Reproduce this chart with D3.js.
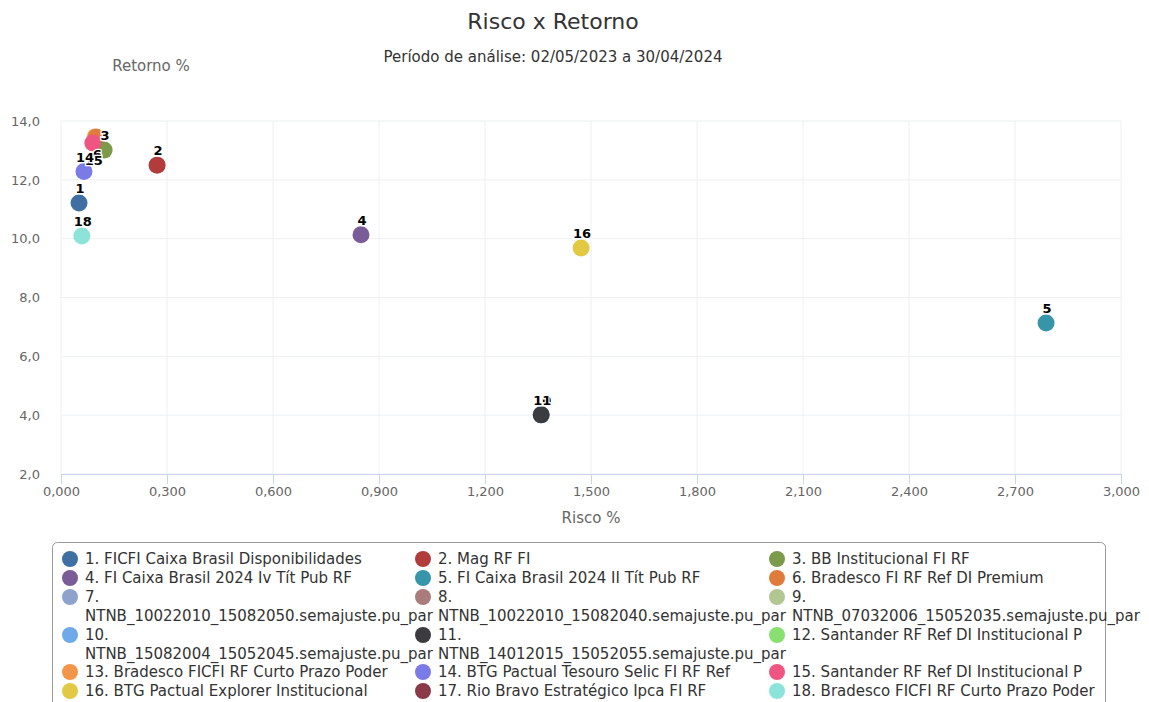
<!DOCTYPE html>
<html>
<head>
<meta charset="utf-8">
<script src="https://cdn.jsdelivr.net/npm/d3@7"></script>
<style>
  body { margin: 0; background: #fff; font-family: "DejaVu Sans", sans-serif; }
  svg { display: block; }
</style>
</head>
<body>
<svg id="chart" width="1149" height="702"></svg>
<script>
// legend entries (numbered funds)
var funds = [
  "FICFI Caixa Brasil Disponibilidades",
  "Mag RF FI",
  "BB Institucional FI RF",
  "FI Caixa Brasil 2024 Iv Tít Pub RF",
  "FI Caixa Brasil 2024 II Tít Pub RF",
  "Bradesco FI RF Ref DI Premium",
  "NTNB_10022010_15082050.semajuste.pu_par",
  "NTNB_10022010_15082040.semajuste.pu_par",
  "NTNB_07032006_15052035.semajuste.pu_par",
  "NTNB_15082004_15052045.semajuste.pu_par",
  "NTNB_14012015_15052055.semajuste.pu_par",
  "Santander RF Ref DI Institucional P",
  "Bradesco FICFI RF Curto Prazo Poder",
  "BTG Pactual Tesouro Selic FI RF Ref",
  "Santander RF Ref DI Institucional P",
  "BTG Pactual Explorer Institucional",
  "Rio Bravo Estratégico Ipca FI RF",
  "Bradesco FICFI RF Curto Prazo Poder"
];
var colors = ["#3f6fa3", "#b23b3b", "#7b9a4a", "#7a5c98", "#3795aa", "#e07c3b",
  "#8ea3cc", "#a97b7b", "#b1c691", "#6eaaea", "#3b3b40", "#88e070",
  "#f29649", "#7b7be8", "#ee5580", "#e2c843", "#8a3a49", "#8ce3da"];

// point values: fund number, risk %, return %
var pointIds = [10, 11, 5, 16, 4, 2, 13, 6, 3, 15, 14, 1, 18];
var risk     = [1.359, 1.359, 2.788, 1.472, 0.849, 0.272, 0.097, 0.100, 0.122, 0.090, 0.065, 0.051, 0.059];
var ret      = [4.01, 4.01, 7.13, 9.68, 10.13, 12.50, 13.46, 13.45, 13.01, 13.25, 12.28, 11.21, 10.09];
// labels pushed below their point by overlap
var labelsBelow = [6, 15];

var xTicks = [0, 0.3, 0.6, 0.9, 1.2, 1.5, 1.8, 2.1, 2.4, 2.7, 3.0];
var yTicks = [2, 4, 6, 8, 10, 12, 14];

var svg = d3.select("#chart");
var plotL = 61, plotR = 1121, plotT = 121, plotB = 474;

var x = d3.scaleLinear().domain([0, 3]).range([plotL, plotR]);
var y = d3.scaleLinear().domain([2, 14]).range([plotB, plotT]);
var fmtX = function (v) { return d3.format(".3f")(v).replace(".", ","); };
var fmtY = function (v) { return d3.format(".1f")(v).replace(".", ","); };

// titles
svg.append("text").attr("x", 553).attr("y", 29).attr("text-anchor", "middle")
  .style("font-size", "22px").style("fill", "#333").text("Risco x Retorno");
svg.append("text").attr("x", 553).attr("y", 62).attr("text-anchor", "middle")
  .style("font-size", "15px").style("fill", "#333").text("Período de análise: 02/05/2023 a 30/04/2024");
svg.append("text").attr("x", 151).attr("y", 71).attr("text-anchor", "middle")
  .style("font-size", "15px").style("fill", "#666").text("Retorno %");
svg.append("text").attr("x", 591).attr("y", 523).attr("text-anchor", "middle")
  .style("font-size", "15px").style("fill", "#666").text("Risco %");

// grid
svg.append("g").selectAll("line").data(yTicks).enter().append("line")
  .attr("x1", plotL).attr("x2", plotR).attr("y1", d => y(d)).attr("y2", d => y(d))
  .style("stroke", "#eef0f4");
svg.append("g").selectAll("line").data(xTicks).enter().append("line")
  .attr("x1", d => x(d)).attr("x2", d => x(d)).attr("y1", plotT).attr("y2", plotB)
  .style("stroke", "#eef0f4");

// x axis
var xAxis = svg.append("g").attr("transform", "translate(0," + plotB + ")")
  .call(d3.axisBottom(x).tickValues(xTicks).tickFormat(fmtX).tickSize(10).tickPadding(3));
xAxis.select(".domain").style("stroke", "#ccd6eb");
xAxis.selectAll(".tick line").style("stroke", "#ccd6eb");
xAxis.selectAll("text").style("font-size", "13px").style("fill", "#666")
  .style("font-family", "DejaVu Sans, sans-serif");

// y axis (labels only)
var yAxis = svg.append("g").attr("transform", "translate(" + (plotL - 18) + ",0)")
  .call(d3.axisLeft(y).tickValues(yTicks).tickFormat(fmtY).tickSize(0));
yAxis.select(".domain").remove();
yAxis.selectAll("text").style("font-size", "13px").style("fill", "#666")
  .style("font-family", "DejaVu Sans, sans-serif");

// points
var pts = pointIds.map(function (id, i) { return { id: id, r: risk[i], v: ret[i] }; });
svg.append("g").selectAll("circle").data(pts).enter().append("circle")
  .attr("cx", d => x(d.r)).attr("cy", d => y(d.v)).attr("r", 8.5)
  .style("fill", d => colors[d.id - 1]);

// data labels
svg.append("g").selectAll("text").data(pts.filter(d => d.id !== 13)).enter().append("text")
  .attr("x", d => x(d.r) + 1)
  .attr("y", d => labelsBelow.indexOf(d.id) >= 0 ? y(d.v) + 22 : y(d.v) - 10)
  .attr("text-anchor", "middle")
  .style("font-size", "13px").style("font-weight", "bold").style("fill", "#000")
  .style("stroke", "#fff").style("stroke-width", "2.5px").style("paint-order", "stroke")
  .text(d => d.id);

// legend
var legend = svg.append("g");
legend.append("rect").attr("x", 52.5).attr("y", 542.5).attr("width", 1053).attr("height", 175)
  .attr("rx", 5).style("fill", "#fff").style("stroke", "#999");

var colX = [70, 423, 777];
var rowY = [559, 578, 597, 635, 672, 691];
var lineH = 19;
funds.forEach(function (name, i) {
  var col = i % 3, row = Math.floor(i / 3);
  var cy = rowY[row];
  var g = legend.append("g");
  g.append("circle").attr("cx", colX[col]).attr("cy", cy).attr("r", 8)
    .style("fill", colors[i]);
  var t = g.append("text").style("font-size", "15px").style("fill", "#333");
  if (name.indexOf("NTNB_") === 0) {
    t.append("tspan").attr("x", colX[col] + 15).attr("y", cy + 5).text((i + 1) + ".");
    t.append("tspan").attr("x", colX[col] + 15).attr("y", cy + 5 + lineH).text(name);
  } else {
    t.append("tspan").attr("x", colX[col] + 15).attr("y", cy + 5).text((i + 1) + ". " + name);
  }
});
</script>
</body>
</html>
